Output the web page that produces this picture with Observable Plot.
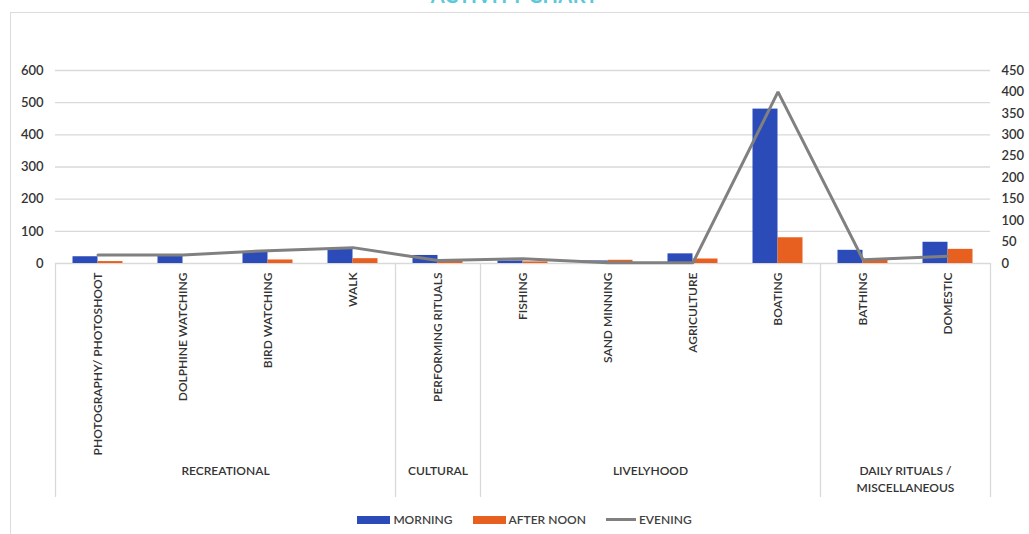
<!DOCTYPE html>
<html>
<head>
<meta charset="utf-8">
<script src="https://cdn.jsdelivr.net/npm/d3@7"></script>
<script src="https://cdn.jsdelivr.net/npm/@observablehq/plot@0.6"></script>
<style>
  html, body { margin: 0; padding: 0; background: #fff; }
  #wrap { position: relative; width: 1029px; height: 534px; overflow: hidden; font-family: Lato, "Open Sans", sans-serif; }
  #frame { position: absolute; left: 10px; top: 12px; width: 1040px; height: 560px; border: 1.5px solid #dcdcdc; box-sizing: border-box; }
  #title { position: absolute; top: -17px; left: 0; width: 1029px; text-align: center; color: #5cc8d8; font: bold 20px Lato, sans-serif; letter-spacing: 0.5px; }
  #chart { position: relative; }
  #legend { position: relative; height: 29px; display: flex; justify-content: center; align-items: center; font-size: 12px; font-weight: 600; color: #404040; padding-left: 20px; box-sizing: border-box; }
  .item { display: flex; align-items: center; margin: 0 10px; }
  .sw { width: 33px; height: 8px; margin-right: 3px; }
  .ln { width: 30px; height: 3px; margin-right: 3px; background: #808080; }
</style>
</head>
<body>
<div id="wrap">
  <div id="frame"></div>
  <div id="title">ACTIVITY CHART</div>
  <div id="chart"></div>
  <div id="legend"></div>
</div>
<script>
// ---- data ----
const categories = ["PHOTOGRAPHY/ PHOTOSHOOT","DOLPHINE WATCHING","BIRD WATCHING","WALK","PERFORMING RITUALS","FISHING","SAND MINNING","AGRICULTURE","BOATING","BATHING","DOMESTIC"];
const morning   = [21, 23, 37, 44, 25, 8, 8, 30, 480, 41, 66];
const afternoon = [6, 0, 11, 15, 10, 5, 10, 14, 80, 12, 44];
const evening   = [20, 20, 30, 37, 7, 11, 2, 2, 400, 9, 17];
const groups = ["RECREATIONAL", "CULTURAL", "LIVELYHOOD", "DAILY RITUALS /\nMISCELLANEOUS"];
const groupSizes = [4, 1, 4, 2];
const leftTicks = [0, 100, 200, 300, 400, 500, 600];
const rightTicks = [0, 50, 100, 150, 200, 250, 300, 350, 400, 450];
const seriesNames = ["MORNING", "AFTER NOON", "EVENING"];

// ---- layout ----
const W = 1029, H = 505, mL = 55, mR = 39, mT = 70, mB = 242;
const yMax = 600, rightMax = 450, k = yMax / rightMax;
const pxPerUnit = (H - mB - mT) / yMax;
const baseY = H - mB;
const yAtPx = px => (baseY - px) / pxPerUnit;
const barW = 25 / ((W - mL - mR) / categories.length);
const colors = {blue: "#2b4cb8", orange: "#e8601f", gray: "#808080"};

const starts = [];
groupSizes.reduce((s, n) => (starts.push(s), s + n), 0);
const groupCenters = starts.map((s, i) => s + (groupSizes[i] - 1) / 2);
const boundaries = [-0.5, ...starts.map((s, i) => s + groupSizes[i] - 0.5)];

const font = "Lato, 'Open Sans', sans-serif";

const chart = Plot.plot({
  width: W, height: H,
  marginLeft: mL, marginRight: mR, marginTop: mT, marginBottom: mB,
  style: {fontFamily: font, background: "transparent", overflow: "visible"},
  x: {domain: [-0.5, categories.length - 0.5], axis: null},
  y: {domain: [0, yMax]},
  marks: [
    Plot.gridY({ticks: leftTicks, stroke: "#d9d9d9", strokeOpacity: 1, strokeWidth: 1.3}),
    Plot.ruleX(boundaries, {x: d => d, y1: 0, y2: yAtPx(497), stroke: "#d9d9d9", strokeWidth: 1.3}),
    Plot.rectY(categories, {x1: (d, i) => i - barW, x2: (d, i) => i, y: (d, i) => morning[i], fill: colors.blue}),
    Plot.rectY(categories, {x1: (d, i) => i, x2: (d, i) => i + barW, y: (d, i) => afternoon[i], fill: colors.orange}),
    Plot.lineY(categories, {x: (d, i) => i, y: (d, i) => evening[i] * k, stroke: colors.gray, strokeWidth: 3, strokeLinejoin: "miter"}),
    Plot.axisY({ticks: leftTicks, tickSize: 0, tickPadding: 12, label: null, fontSize: 13, fontWeight: 600, fill: "#333"}),
    Plot.axisY({anchor: "right", ticks: rightTicks.map(v => v * k), tickFormat: v => Math.round(v / k), tickSize: 0, tickPadding: 11, label: null, fontSize: 13, fontWeight: 600, fill: "#333"}),
    Plot.text(categories, {x: (d, i) => i, y: 0, text: d => d, rotate: -90, textAnchor: "end", lineAnchor: "middle", dy: 9, fontSize: 12, fontWeight: 600, fill: "#333"}),
    Plot.text(groups, {x: (d, i) => groupCenters[i], y: 0, text: d => d, dy: 199, lineAnchor: "top", lineHeight: 1.45, fontSize: 12, fontWeight: 600, fill: "#333"})
  ]
});
document.getElementById("chart").appendChild(chart);

const legend = document.getElementById("legend");
const legendColors = [colors.blue, colors.orange, colors.gray];
seriesNames.forEach((name, i) => {
  const item = document.createElement("div");
  item.className = "item";
  const sw = document.createElement("div");
  if (i < 2) { sw.className = "sw"; sw.style.background = legendColors[i]; }
  else { sw.className = "ln"; }
  item.appendChild(sw);
  const t = document.createElement("span");
  t.textContent = name;
  item.appendChild(t);
  legend.appendChild(item);
});
</script>
</body>
</html>
